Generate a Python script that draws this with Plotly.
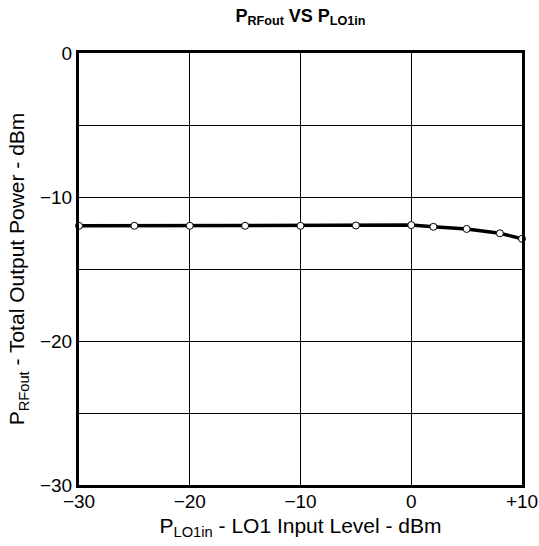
import plotly.graph_objects as go

lo_in_dbm = [-30, -25, -20, -15, -10, -5, 0, 2, 5, 8, 10]
rf_out_dbm = [-12.0, -12.0, -12.0, -12.0, -12.0, -11.98, -11.95, -12.07, -12.22, -12.52, -12.9]

x_tickvals = [-30, -20, -10, 0, 10]
x_ticktext = ["\u221230", "\u221220", "\u221210", "0", "+10"]
y_tickvals = [0, -10, -20, -30]
y_ticktext = ["0", "\u221210", "\u221220", "\u221230"]

fig = go.Figure()
fig.add_trace(go.Scatter(
    x=lo_in_dbm, y=rf_out_dbm, mode="lines+markers",
    line=dict(color="black", width=3.5),
    marker=dict(size=7, color="white", line=dict(color="black", width=1)),
    cliponaxis=False, showlegend=False,
))

font = "Liberation Sans, Arial, sans-serif"
fig.update_layout(
    width=539, height=546, autosize=False,
    margin=dict(l=79, r=17, t=53, b=61, pad=0),
    paper_bgcolor="white", plot_bgcolor="white",
    font=dict(family=font, color="black", size=19),
    title=dict(text="<b>P<sub>RFout</sub> VS P<sub>LO1in</sub></b>",
               xref="paper", x=0.5, xanchor="center", y=0.972, yanchor="middle",
               font=dict(size=18, family=font)),
)
fig.update_xaxes(
    range=[-30, 10], tickvals=x_tickvals, ticktext=x_ticktext,
    showgrid=True, gridcolor="black", gridwidth=1,
    showline=True, linecolor="black", linewidth=3, mirror=True,
    ticks="", zeroline=False, tickfont=dict(size=19), automargin=False,
    ticklabelstandoff=-3,
    title=dict(text="P<sub>LO1in</sub> - LO1 Input Level - dBm", font=dict(size=21), standoff=8),
)
fig.update_yaxes(
    range=[-30, 0], tickvals=y_tickvals, ticktext=y_ticktext,
    showgrid=True, gridcolor="black", gridwidth=1,
    minor=dict(tick0=0, dtick=5, showgrid=True, gridcolor="black", gridwidth=1, ticks=""),
    showline=True, linecolor="black", linewidth=3, mirror=True,
    ticks="", zeroline=False, tickfont=dict(size=19), automargin=False,
    title=dict(text="P<sub>RFout</sub> - Total Output Power - dBm", font=dict(size=21), standoff=10),
)
fig.write_html("out.html")
